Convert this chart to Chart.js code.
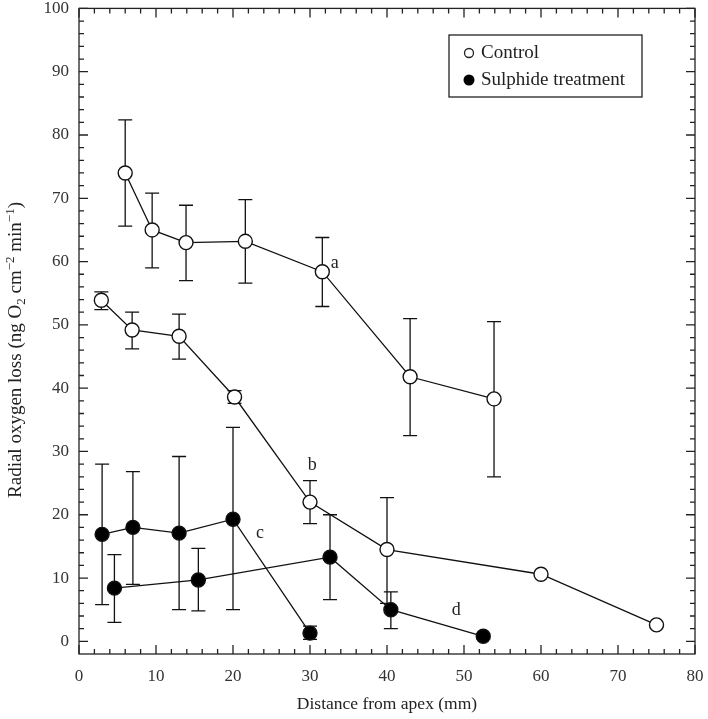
<!DOCTYPE html>
<html>
<head>
<meta charset="utf-8">
<script src="https://cdn.jsdelivr.net/npm/chart.js@4.4.1/dist/chart.umd.min.js"></script>
<style>
  html, body { margin: 0; padding: 0; background: #fff; }
  #wrap { width: 708px; height: 719px; }
</style>
</head>
<body>
<div id="wrap"><canvas id="chart" width="708" height="719"></canvas></div>
<script>
// Control, line a
const ctrlAX = [6.0, 9.5, 13.9, 21.6, 31.6, 43.0, 53.9];
const ctrlAY = [74.0, 65.0, 63.0, 63.2, 58.4, 41.8, 38.3];
const ctrlAHi = [82.4, 70.8, 68.9, 69.8, 63.8, 51.0, 50.5];
const ctrlALo = [65.6, 59.0, 57.0, 56.6, 52.9, 32.5, 26.0];

// Control, line b
const ctrlBX = [2.9, 6.9, 13.0, 20.2, 30.0, 40.0, 60.0, 75.0];
const ctrlBY = [53.9, 49.2, 48.2, 38.6, 22.0, 14.5, 10.6, 2.6];
const ctrlBHi = [55.2, 52.0, 51.7, 39.6, 25.4, 22.7, null, null];
const ctrlBLo = [52.4, 46.2, 44.6, 37.6, 18.6, 6.0, null, null];

// Sulphide, line c
const sulCX = [3.0, 7.0, 13.0, 20.0, 30.0];
const sulCY = [16.9, 18.0, 17.1, 19.3, 1.3];
const sulCHi = [28.0, 26.8, 29.2, 33.8, 2.4];
const sulCLo = [5.8, 9.0, 5.0, 5.0, 0.3];

// Sulphide, line d
const sulDX = [4.6, 15.5, 32.6, 40.5, 52.5];
const sulDY = [8.4, 9.7, 13.3, 5.0, 0.8];
const sulDHi = [13.7, 14.7, 20.0, 7.8, 1.2];
const sulDLo = [3.0, 4.8, 6.6, 2.0, 0.4];

const lineLabels = ['a', 'b', 'c', 'd'];
const labelX = [33.2, 30.3, 23.5, 49.0];
const labelY = [59.8, 27.8, 17.0, 4.9];

const xTicks = [0, 10, 20, 30, 40, 50, 60, 70, 80];
const yTicks = [0, 10, 20, 30, 40, 50, 60, 70, 80, 90, 100];

const SERIF = '"Liberation Serif", "DejaVu Serif", serif';

function pts(xs, ys) {
    return xs.map((x, i) => ({ x: x, y: ys[i] }));
}

function makeSet(xs, ys, hi, lo, filled) {
    return {
        data: pts(xs, ys),
        errHi: hi,
        errLo: lo,
        showLine: true,
        borderColor: '#111',
        borderWidth: 1.3,
        pointRadius: 7,
        pointHoverRadius: 7,
        pointBorderWidth: 1.4,
        pointBorderColor: '#111',
        pointBackgroundColor: filled ? '#000' : '#fff',
        tension: 0,
    };
}

const errorBars = {
    id: 'errorBars',
    beforeDatasetsDraw(chart) {
        const ctx = chart.ctx;
        const xs = chart.scales.x, ys = chart.scales.y;
        ctx.save();
        ctx.strokeStyle = '#111';
        ctx.lineWidth = 1.3;
        chart.data.datasets.forEach(ds => {
            ds.data.forEach((p, i) => {
                const hi = ds.errHi[i], lo = ds.errLo[i];
                if (hi == null) return;
                const px = xs.getPixelForValue(p.x);
                const top = ys.getPixelForValue(hi);
                const bot = ys.getPixelForValue(lo);
                ctx.beginPath();
                ctx.moveTo(px, top); ctx.lineTo(px, bot);
                ctx.moveTo(px - 7, top); ctx.lineTo(px + 7, top);
                ctx.moveTo(px - 7, bot); ctx.lineTo(px + 7, bot);
                ctx.stroke();
            });
        });
        ctx.restore();
    }
};

// y title with sub/superscripts, drawn rotated
const yTitleParts = [
    { t: 'Radial oxygen loss (ng O', s: 0 },
    { t: '2', s: 1 },
    { t: ' cm', s: 0 },
    { t: '\u22122', s: -1 },
    { t: ' min', s: 0 },
    { t: '\u22121', s: -1 },
    { t: ')', s: 0 },
];

function drawYTitle(ctx, cx, cy) {
    const big = '19px ' + SERIF, small = '13px ' + SERIF;
    let total = 0;
    yTitleParts.forEach(p => {
        ctx.font = p.s ? small : big;
        p.w = ctx.measureText(p.t).width;
        total += p.w;
    });
    ctx.save();
    ctx.translate(cx, cy);
    ctx.rotate(-Math.PI / 2);
    ctx.textAlign = 'left';
    ctx.textBaseline = 'alphabetic';
    ctx.fillStyle = '#222';
    let x = -total / 2;
    yTitleParts.forEach(p => {
        ctx.font = p.s ? small : big;
        const dy = p.s === 1 ? 4 : (p.s === -1 ? -7 : 0);
        ctx.fillText(p.t, x, 6 + dy);
        x += p.w;
    });
    ctx.restore();
}

const frame = {
    id: 'frame',
    afterDraw(chart) {
        const ctx = chart.ctx;
        const a = chart.chartArea;
        const xs = chart.scales.x, ys = chart.scales.y;
        ctx.save();
        ctx.strokeStyle = '#222';
        ctx.lineWidth = 1.3;
        ctx.strokeRect(a.left, a.top, a.right - a.left, a.bottom - a.top);
        ctx.beginPath();
        for (let v = 0; v <= 80; v += 2) {
            const px = xs.getPixelForValue(v);
            const len = v % 10 === 0 ? 9 : 5;
            ctx.moveTo(px, a.bottom); ctx.lineTo(px, a.bottom - len);
            ctx.moveTo(px, a.top); ctx.lineTo(px, a.top + len);
        }
        for (let v = 0; v <= 100; v += 2) {
            const py = ys.getPixelForValue(v);
            const len = v % 10 === 0 ? 9 : 5;
            ctx.moveTo(a.left, py); ctx.lineTo(a.left + len, py);
            ctx.moveTo(a.right, py); ctx.lineTo(a.right - len, py);
        }
        ctx.stroke();

        // line labels
        ctx.fillStyle = '#222';
        ctx.font = '18px ' + SERIF;
        ctx.textAlign = 'center';
        ctx.textBaseline = 'middle';
        lineLabels.forEach((t, i) => {
            ctx.fillText(t, xs.getPixelForValue(labelX[i]), ys.getPixelForValue(labelY[i]));
        });

        // legend
        const lx = 449, ly = 35, lw = 193, lh = 62;
        ctx.strokeRect(lx, ly, lw, lh);
        ctx.textAlign = 'left';
        ctx.font = '19px ' + SERIF;
        ctx.lineWidth = 1.3;
        ctx.beginPath();
        ctx.arc(lx + 20, ly + 18, 4.5, 0, Math.PI * 2);
        ctx.fillStyle = '#fff';
        ctx.fill();
        ctx.stroke();
        ctx.beginPath();
        ctx.arc(lx + 20, ly + 45, 5.5, 0, Math.PI * 2);
        ctx.fillStyle = '#000';
        ctx.fill();
        ctx.fillStyle = '#222';
        ctx.fillText('Control', lx + 32, ly + 18);
        ctx.fillText('Sulphide treatment', lx + 32, ly + 45);

        drawYTitle(ctx, 15, 350);
        ctx.restore();
    }
};

new Chart(document.getElementById('chart'), {
    type: 'scatter',
    data: {
        datasets: [
            makeSet(ctrlAX, ctrlAY, ctrlAHi, ctrlALo, false),
            makeSet(ctrlBX, ctrlBY, ctrlBHi, ctrlBLo, false),
            makeSet(sulCX, sulCY, sulCHi, sulCLo, true),
            makeSet(sulDX, sulDY, sulDHi, sulDLo, true),
        ]
    },
    options: {
        responsive: false,
        animation: false,
        events: [],
        layout: { padding: { top: 6, right: 13, left: 0, bottom: 0 } },
        plugins: {
            legend: { display: false },
            tooltip: { enabled: false },
        },
        scales: {
            x: {
                type: 'linear',
                min: 0,
                max: 80,
                afterBuildTicks: s => { s.ticks = xTicks.map(v => ({ value: v })); },
                afterFit: s => { s.height = 65; s.paddingLeft = 0; s.paddingRight = 0; },
                grid: { display: false, drawTicks: false },
                border: { display: false },
                ticks: {
                    padding: 12,
                    color: '#333',
                    font: { family: SERIF, size: 17 },
                    maxRotation: 0,
                },
                title: {
                    display: true,
                    text: 'Distance from apex (mm)',
                    color: '#222',
                    font: { family: SERIF, size: 17.5 },
                    padding: { top: 6 },
                },
            },
            y: {
                type: 'linear',
                min: -2,
                max: 100,
                afterBuildTicks: s => { s.ticks = yTicks.map(v => ({ value: v })); },
                afterFit: s => { s.width = 79; s.paddingTop = 0; s.paddingBottom = 0; },
                grid: { display: false, drawTicks: false },
                border: { display: false },
                ticks: {
                    padding: 10,
                    color: '#333',
                    font: { family: SERIF, size: 17 },
                },
            },
        },
    },
    plugins: [errorBars, frame],
});
</script>
</body>
</html>
